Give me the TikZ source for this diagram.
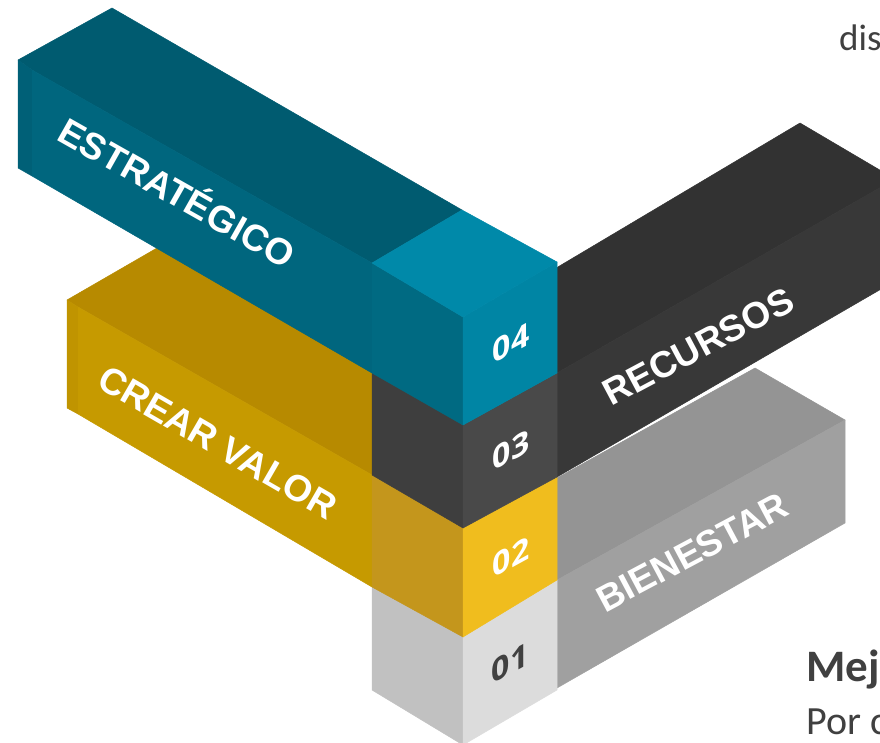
\documentclass[tikz,border=0pt]{standalone}
\usepackage{fontspec}
\setmainfont{Liberation Sans}
\newfontfamily\numfont{Open Sans}
\newfontfamily\bodyfont{Carlito}
\definecolor{tealTop}{HTML}{005B70}
\definecolor{tealFront}{HTML}{00667E}
\definecolor{tealSliver}{HTML}{006077}
\definecolor{cubeTop}{HTML}{0089A9}
\definecolor{cubeRight}{HTML}{0085A4}
\definecolor{cubeLeft}{HTML}{006A82}
\definecolor{recTop}{HTML}{323232}
\definecolor{recFront}{HTML}{383838}
\definecolor{darkLeft}{HTML}{3E3E3E}
\definecolor{darkRight}{HTML}{494949}
\definecolor{goldTop}{HTML}{B78A00}
\definecolor{goldFront}{HTML}{C69A00}
\definecolor{goldSliver}{HTML}{C09400}
\definecolor{goldLeft}{HTML}{C4961C}
\definecolor{goldRight}{HTML}{F0BD1E}
\definecolor{bienTop}{HTML}{949494}
\definecolor{bienFront}{HTML}{A0A0A0}
\definecolor{greyLeft}{HTML}{C1C1C1}
\definecolor{greyRight}{HTML}{DCDCDC}
\definecolor{txt}{HTML}{404040}
\tikzset{
  fc/.style={fill=#1,draw=#1,line width=0.5pt,line join=round},
  lbl/.style={inner sep=0pt,text=white,font=\bfseries\fontsize{37}{37}\selectfont,text height=26.5pt,text depth=0pt},
  num/.style={inner sep=0pt,font=\numfont\bfseries\fontsize{32}{32}\selectfont,text height=23pt,text depth=0pt,yslant=0.55},
  body/.style={inner sep=0pt,anchor=base west,text=txt}
}
\begin{document}
\begin{tikzpicture}[x=1pt,y=-1pt]
\useasboundingbox (0,0) rectangle (880,743);
\clip (0,0) rectangle (880,743);
% BIENESTAR bar
\path[fc=bienTop] (467,528) -- (755,368) -- (845,420) -- (557,580) -- cycle;
\path[fc=bienFront] (557,580) -- (845,420) -- (845,523) -- (557,688) -- cycle;
% RECURSOS bar
\path[fc=recTop] (467,321) -- (800,123) -- (895,179) -- (557,373) -- cycle;
\path[fc=recFront] (557,373) -- (895,179) -- (895,281) -- (557,477) -- cycle;
% CREAR VALOR bar
\path[fc=goldTop] (67,300) -- (157,248) -- (462,423) -- (372,475) -- (78,307) -- cycle;
\path[fc=goldSliver] (67,300) -- (78,307) -- (78,414) -- (67,408) -- cycle;
\path[fc=goldFront] (78,307) -- (372,475) -- (372,587) -- (78,414) -- cycle;
% ESTRATEGICO bar
\path[fc=tealTop] (18,60) -- (112,8) -- (462,210) -- (372,263) -- (32,70) -- cycle;
\path[fc=tealSliver] (18,60) -- (32,70) -- (32,176) -- (18,168) -- cycle;
\path[fc=tealFront] (32,70) -- (372,263) -- (372,373) -- (32,176) -- cycle;
% column cube 01
\path[fc=greyLeft] (372,587) -- (463,637) -- (463,745) -- (372,690) -- cycle;
\path[fc=greyRight] (463,637) -- (557,580) -- (557,690) -- (463,745) -- cycle;
% column cube 02
\path[fc=goldLeft] (372,475) -- (463,528) -- (463,637) -- (372,587) -- cycle;
\path[fc=goldRight] (463,528) -- (557,477) -- (557,580) -- (463,637) -- cycle;
% column cube 03
\path[fc=darkLeft] (372,373) -- (463,425) -- (463,528) -- (372,475) -- cycle;
\path[fc=darkRight] (463,425) -- (557,373) -- (557,477) -- (463,528) -- cycle;
% column cube 04
\path[fc=cubeLeft] (372,263) -- (463,317) -- (463,425) -- (372,373) -- cycle;
\path[fc=cubeRight] (463,317) -- (557,262) -- (557,373) -- (463,425) -- cycle;
\path[fc=cubeTop] (372,263) -- (462,210) -- (557,262) -- (463,317) -- cycle;
% labels
\node[lbl,rotate=-29.5] (estr) at (177,193) {ESTRATÉGICO};
\node[lbl,rotate=-30] (crear) at (218,442) {CREAR VALOR};
\node[lbl,rotate=28] (recu) at (698,346) {RECURSOS};
\node[lbl,rotate=28] (bien) at (692,552) {BIENESTAR};
% numbers
\node[num,text=white] (n4) at (511,343) {04};
\node[num,text=white] (n3) at (511,450) {03};
\node[num,text=white] (n2) at (511,557) {02};
\node[num,text=txt] (n1) at (510,663) {01};
% side text
\node[body,font=\bodyfont\fontsize{37}{37}\selectfont] (dis) at (839,51) {dis};
\node[body,font=\bodyfont\bfseries\fontsize{45}{45}\selectfont] (mej) at (806,681) {Mej};
\node[body,font=\bodyfont\fontsize{40}{40}\selectfont] (por) at (806,734) {Por c};
\end{tikzpicture}
\end{document}
